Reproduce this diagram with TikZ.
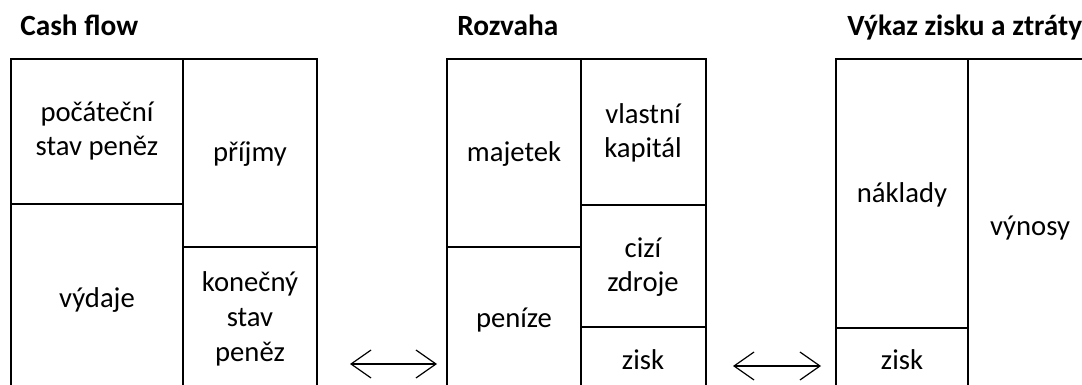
\documentclass[tikz,border=0pt]{standalone}
\usepackage{fontspec}
\setmainfont{Carlito}
\usetikzlibrary{arrows.meta}
\begin{document}
\begin{tikzpicture}[x=0.75pt,y=-0.75pt,
  box/.style={line width=1.6pt},
  lbl/.style={align=center,font=\fontsize{21.5}{26}\selectfont,inner sep=0pt},
  ttl/.style={anchor=base west,font=\fontsize{22}{26}\selectfont\bfseries,inner sep=0pt},
  dbl/.style={line width=0.9pt,{Straight Barb[length=15pt,width=21pt,line width=0.9pt]}-{Straight Barb[length=15pt,width=21pt,line width=0.9pt]}}]
\useasboundingbox (0,0) rectangle (1082,385);
% titles
\node[ttl] (t1) at (20,36) {Cash flow};
\node[ttl] (t2) at (457,36) {Rozvaha};
\node[ttl] (t3) at (847,36) {Výkaz zisku a ztráty};
% Cash flow frame
\draw[box] (11,386) -- (11,59) -- (317,59) -- (317,386);
\draw[box] (183,59) -- (183,386);
\draw[box] (11,204) -- (183,204);
\draw[box] (183,247) -- (317,247);
% Rozvaha frame
\draw[box] (447,386) -- (447,59) -- (706,59) -- (706,386);
\draw[box] (581,59) -- (581,386);
\draw[box] (447,247) -- (581,247);
\draw[box] (581,205) -- (706,205);
\draw[box] (581,327) -- (706,327);
% Vykaz frame
\draw[box] (836,386) -- (836,59) -- (1083,59);
\draw[box] (968,59) -- (968,386);
\draw[box] (836,328) -- (968,328);
% labels
\node[lbl] (a1) at (97,131) {počáteční\\stav peněz};
\node[lbl] (a2) at (250,154) {příjmy};
\node[lbl] (a3) at (97,300) {výdaje};
\node[lbl] (a4) at (250,319) {konečný\\stav\\peněz};
\node[lbl] (b1) at (514,154) {majetek};
\node[lbl] (b2) at (643,133) {vlastní\\kapitál};
\node[lbl] (b3) at (643,267) {cizí\\zdroje};
\node[lbl] (b4) at (643,360) {zisk};
\node[lbl] (b5) at (514,320) {peníze};
\node[lbl] (c1) at (902,195) {náklady};
\node[lbl] (c2) at (1030,228) {výnosy};
\node[lbl] (c3) at (902,360) {zisk};
% arrows
\coordinate (p1) at (350,364);
\coordinate (p2) at (437,364);
\coordinate (q1) at (733,366);
\coordinate (q2) at (821,366);
\draw[dbl] (p1) -- (p2);
\draw[dbl] (q1) -- (q2);
\end{tikzpicture}
\end{document}
